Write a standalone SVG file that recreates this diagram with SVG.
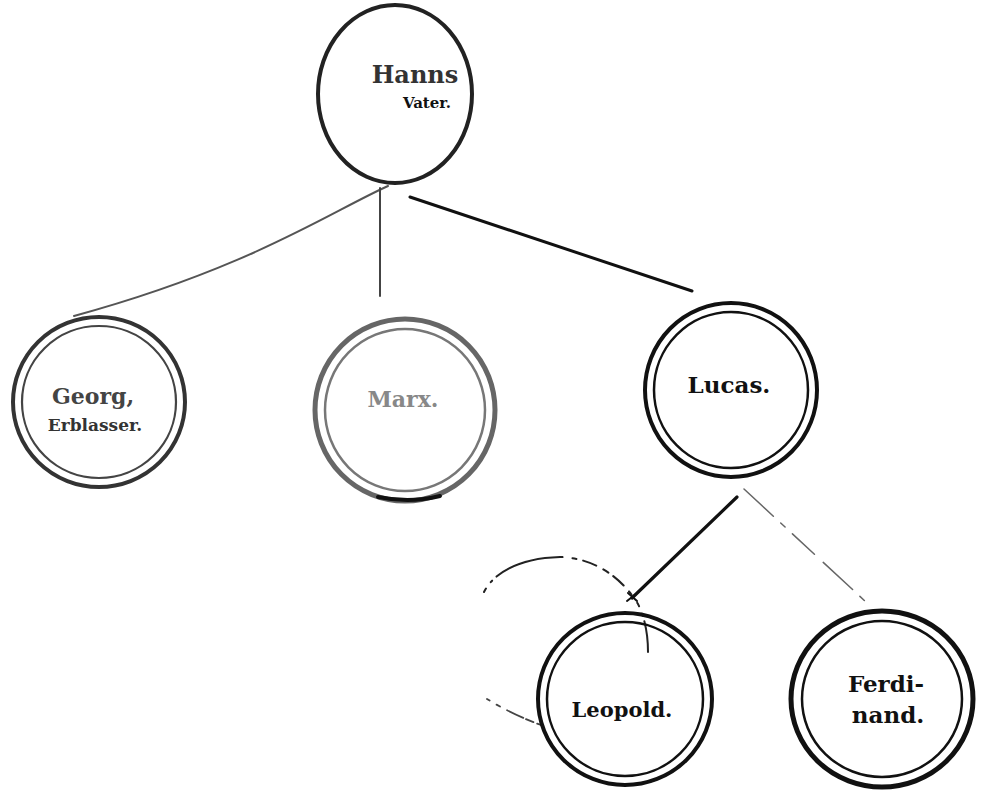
<svg xmlns="http://www.w3.org/2000/svg" width="981" height="790" viewBox="0 0 981 790">
<style>
.bg{fill:#ffffff}
.ring{fill:none}
.t{font-family:"DejaVu Serif","Liberation Serif",serif;font-weight:bold;text-anchor:middle}
.conn{fill:none;stroke-linecap:round}
</style>
<rect class="bg" x="0" y="0" width="981" height="790"/>
<g id="connectors">
  <path class="conn" d="M388,186 C330,212 250,268 74,316" stroke="#555" stroke-width="2"/>
  <path class="conn" d="M380,188 L380,296" stroke="#444" stroke-width="2"/>
  <path class="conn" d="M410,197 L692,291" stroke="#111" stroke-width="3"/>
  <path class="conn" d="M737,497 L632,598" stroke="#111" stroke-width="3.2"/>
  <path class="conn" d="M628,593 L637,601 M627,601 L636,594" stroke="#111" stroke-width="2"/>
  <path class="conn" d="M744,489 L866,602" stroke="#666" stroke-width="1.5" stroke-dasharray="40 10 6 10 30 12"/>
  <path class="conn" d="M484,592 C495,570 525,558 560,557 C595,558 622,578 638,604 C645,618 648,635 648,652" stroke="#222" stroke-width="2" stroke-dasharray="4 8 2 6 70 10 4 7 14 8 6 6 14 8 4 10"/>
  <path class="conn" d="M487,699 C505,710 522,718 541,725" stroke="#444" stroke-width="1.8" stroke-dasharray="3 8 4 8 18"/>
</g>
<g id="node-hanns">
  <ellipse class="ring" cx="395" cy="94" rx="77" ry="89" stroke="#222" stroke-width="4"/>
  <text class="t" x="415" y="83" font-size="24" fill="#333">Hanns</text>
  <text class="t" x="427" y="108" font-size="15" fill="#111">Vater.</text>
</g>
<g id="node-georg">
  <ellipse class="ring" cx="99" cy="402" rx="86" ry="85" stroke="#333" stroke-width="4"/>
  <ellipse class="ring" cx="99" cy="402" rx="77" ry="76" stroke="#444" stroke-width="2.2"/>
  <text class="t" x="93" y="404" font-size="22" fill="#444">Georg,</text>
  <text class="t" x="95" y="431" font-size="17" fill="#333">Erblasser.</text>
</g>
<g id="node-marx">
  <ellipse class="ring" cx="405" cy="410" rx="90" ry="91" stroke="#666" stroke-width="5"/>
  <ellipse class="ring" cx="405" cy="410" rx="80" ry="81" stroke="#777" stroke-width="2.5"/>
  <path class="conn" d="M378,497 C398,501 420,501 440,496" stroke="#111" stroke-width="4"/>
  <text class="t" x="403" y="407" font-size="22" fill="#888">Marx.</text>
</g>
<g id="node-lucas">
  <ellipse class="ring" cx="731" cy="390" rx="86" ry="87" stroke="#111" stroke-width="4"/>
  <ellipse class="ring" cx="731" cy="390" rx="77" ry="78" stroke="#111" stroke-width="2.5"/>
  <text class="t" x="729" y="393" font-size="23" fill="#111">Lucas.</text>
</g>
<g id="node-leopold">
  <ellipse class="ring" cx="625" cy="699" rx="87" ry="86" stroke="#111" stroke-width="4"/>
  <ellipse class="ring" cx="625" cy="699" rx="78" ry="77" stroke="#111" stroke-width="2.5"/>
  <text class="t" x="622" y="717" font-size="21" fill="#111">Leopold.</text>
</g>
<g id="node-ferdinand">
  <ellipse class="ring" cx="882" cy="699" rx="91" ry="88" stroke="#111" stroke-width="5"/>
  <ellipse class="ring" cx="882" cy="699" rx="80" ry="78" stroke="#111" stroke-width="2.5"/>
  <text class="t" x="886" y="692" font-size="23" fill="#111">Ferdi-</text>
  <text class="t" x="888" y="723" font-size="23" fill="#111">nand.</text>
</g>
</svg>
